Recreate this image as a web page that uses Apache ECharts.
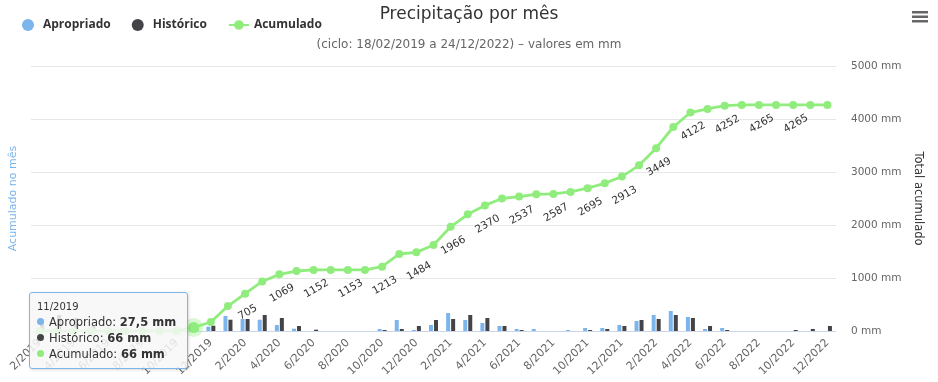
<!DOCTYPE html>
<html><head><meta charset="utf-8">
<script src="https://cdn.jsdelivr.net/npm/echarts@6/dist/echarts.min.js"></script>
<style>html,body{margin:0;padding:0;background:#fff}#c{width:938px;height:382px}</style>
</head><body><div id="c"></div>
<script>
const months = ['2/2019','3/2019','4/2019','5/2019','6/2019','7/2019','8/2019','9/2019','10/2019','11/2019','12/2019',
  '1/2020','2/2020','3/2020','4/2020','5/2020','6/2020','7/2020','8/2020','9/2020','10/2020','11/2020','12/2020',
  '1/2021','2/2021','3/2021','4/2021','5/2021','6/2021','7/2021','8/2021','9/2021','10/2021','11/2021','12/2021',
  '1/2022','2/2022','3/2022','4/2022','5/2022','6/2022','7/2022','8/2022','9/2022','10/2022','11/2022','12/2022'];
const apropriado = [0,0,0,0,0,0,0,0,0,27.5,81,283,226,213,113,43,0,0,0,0,38,208,19,113,340,208,151,94,38,38,0,19,57,57,113,189,302,377,264,38,57,0,0,0,0,0,0];
const historico = [226,302,245,94,19,0,0,0,19,66,100,213,226,302,245,94,25,0,0,0,19,38,94,208,226,302,245,94,19,0,0,0,19,38,94,208,226,302,245,94,19,0,0,0,19,38,94];
const acumulado = [0,0,0,0,0,0,0,0,0,66,170,470,705,935,1069,1132,1152,1152,1153,1153,1213,1453,1484,1623,1966,2202,2370,2500,2537,2580,2587,2623,2695,2787,2913,3126,3449,3849,4122,4189,4252,4265,4265,4265,4265,4265,4265];
const titleText = 'Precipitação por mês';
const subtitleText = '(ciclo: 18/02/2019 a 24/12/2022) – valores em mm';
const hoverIndex = 9;

const F = 'DejaVu Sans';
const chart = echarts.init(document.getElementById('c'), null, {renderer:'canvas'});

const lineData = acumulado.map((v, i) => {
  const item = {value: v, label: {show: i >= 12 && i <= 44 && i % 2 === 0}};
  if (i === hoverIndex) {
    item.symbolSize = 10;
    item.itemStyle = {borderColor: 'rgba(144,237,125,0.35)', borderWidth: 8};
  }
  return item;
});

function fmt(v){ return String(v).replace('.', ','); }

chart.setOption({
  animation: false,
  title: [
    {text: titleText, left: 'center', top: 1, textStyle: {fontFamily: F, fontSize: 17, fontWeight: 'normal', color: '#333'}},
    {text: subtitleText, left: 'center', top: 34, textStyle: {fontFamily: F, fontSize: 12, fontWeight: 'normal', color: '#666'}}
  ],
  legend: {
    left: 17, top: 14, itemWidth: 20, itemHeight: 12, itemGap: 21,
    textStyle: {fontFamily: 'Open Sans', fontWeight: 'bold', fontSize: 12, color: '#333'},
    data: [{name: 'Apropriado', icon: 'circle'}, {name: 'Histórico', icon: 'circle'}, {name: 'Acumulado'}]
  },
  grid: {left: 29, right: 102, top: 66, bottom: 51, containLabel: false},
  tooltip: {
    trigger: 'axis', triggerOn: 'none', alwaysShowContent: true, transitionDuration: 0,
    axisPointer: {type: 'none'},
    backgroundColor: 'rgba(247,247,247,0.85)', borderColor: '#7cb5ec', borderWidth: 1, borderRadius: 3,
    padding: [6, 11, 6, 7],
    extraCssText: 'box-shadow:1px 1px 3px rgba(0,0,0,0.15);',
    textStyle: {fontFamily: F, fontSize: 11.5, color: '#333'},
    position: function(){ return [29, 292]; },
    formatter: function(params){
      const i = params[0].dataIndex;
      let s = '<div style="font-size:10px;line-height:15px">' + months[i] + '</div>';
      params.forEach(p => {
        s += '<div style="line-height:16px;white-space:nowrap"><span style="display:inline-block;width:7px;height:7px;border-radius:50%;background:' + p.color + ';margin-right:5px;vertical-align:1px"></span>' + p.seriesName + ': <b>' + fmt(p.value) + ' mm</b></div>';
      });
      return s;
    }
  },
  xAxis: {
    type: 'category', data: months, boundaryGap: true,
    axisLine: {lineStyle: {color: '#ccd6eb', width: 1}},
    axisTick: {show: false},
    axisLabel: {interval: 1, rotate: 45, margin: 10, fontFamily: F, fontSize: 11, color: '#666'}
  },
  yAxis: [
    {type: 'value', min: 0, max: 5000, interval: 1000, position: 'left',
     name: 'Acumulado no mês', nameLocation: 'middle', nameGap: 12,
     nameTextStyle: {fontFamily: F, fontSize: 11, color: '#7cb5ec'},
     axisLabel: {show: false}, axisLine: {show: false}, axisTick: {show: false},
     splitLine: {show: true, lineStyle: {color: '#e6e6e6'}}},
    {type: 'value', min: 0, max: 5000, interval: 1000, position: 'right',
     name: 'Total acumulado', nameLocation: 'middle', nameGap: 76, nameRotate: -90,
     nameTextStyle: {fontFamily: F, fontSize: 11.5, color: '#333'},
     axisLabel: {margin: 15, fontFamily: F, fontSize: 10.5, color: '#666', formatter: v => v + ' mm'},
     axisLine: {show: false}, axisTick: {show: false}, splitLine: {show: false}}
  ],
  series: [
    {name: 'Apropriado', type: 'bar', yAxisIndex: 0, data: apropriado, barWidth: 4, barGap: '25%',
     itemStyle: {color: '#7cb5ec'}, emphasis: {disabled: true}},
    {name: 'Histórico', type: 'bar', yAxisIndex: 0, data: historico, barWidth: 4, barGap: '25%',
     itemStyle: {color: '#434348'}, emphasis: {disabled: true}},
    {name: 'Acumulado', type: 'line', yAxisIndex: 1, data: lineData, z: 5,
     symbol: 'circle', symbolSize: 8, showAllSymbol: true,
     itemStyle: {color: '#90ed7d'}, lineStyle: {color: '#90ed7d', width: 2.8},
     emphasis: {disabled: true},
     label: {position: 'bottom', distance: 10, rotate: 30, fontFamily: F, fontSize: 10.5, color: '#333',
             formatter: p => Math.round(p.value)}}
  ],
  graphic: [
    {type: 'rect', shape: {x: 912, y: 11, width: 16, height: 2.5}, style: {fill: '#666'}},
    {type: 'rect', shape: {x: 912, y: 15.5, width: 16, height: 2.5}, style: {fill: '#666'}},
    {type: 'rect', shape: {x: 912, y: 20, width: 16, height: 2.5}, style: {fill: '#666'}}
  ]
});

chart.dispatchAction({type: 'showTip', seriesIndex: 2, dataIndex: hoverIndex});
</script></body></html>
